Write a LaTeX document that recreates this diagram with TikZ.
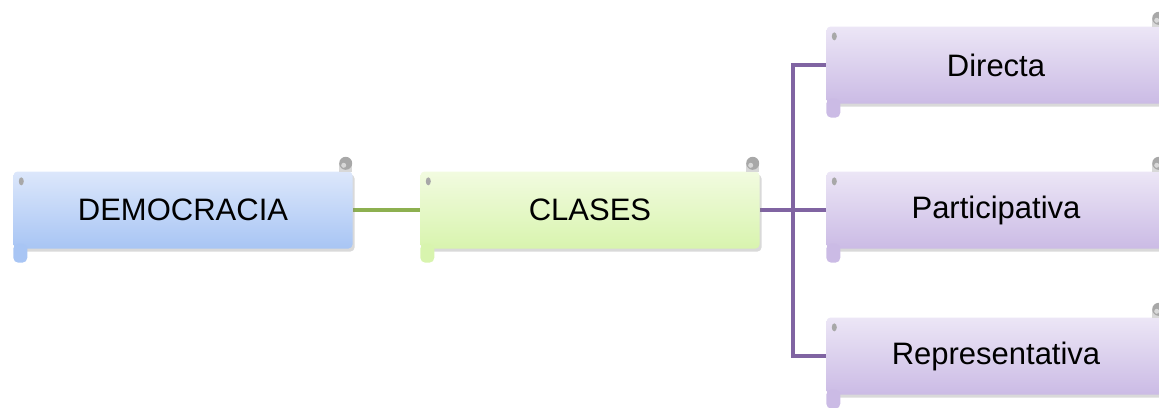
\documentclass[tikz,border=0pt]{standalone}
\usepackage{fontspec}
\setmainfont{Liberation Sans}
\usetikzlibrary{shadows,backgrounds}

\definecolor{blueTop}{HTML}{DCE7FB}
\definecolor{blueBot}{HTML}{A8C5F4}
\definecolor{greenTop}{HTML}{F2FBE0}
\definecolor{greenBot}{HTML}{D8F4AE}
\definecolor{purpleTop}{HTML}{ECE6F6}
\definecolor{purpleBot}{HTML}{CBBBE5}
\definecolor{greenLine}{HTML}{8DB050}
\definecolor{purpleLine}{HTML}{8064A2}
\definecolor{curlGray}{HTML}{A8A8A8}

\tikzset{
  scroll/.style={rectangle, rounded corners=4pt, minimum width=339pt,
    minimum height=77pt, inner sep=0pt, font=\fontsize{31}{36}\selectfont,
    drop shadow={shadow xshift=2pt, shadow yshift=-3pt, opacity=0.3}},
  blueScroll/.style={scroll, top color=blueTop, bottom color=blueBot},
  greenScroll/.style={scroll, top color=greenTop, bottom color=greenBot},
  purpleScroll/.style={scroll, top color=purpleTop, bottom color=purpleBot},
  link/.style={line width=4.5pt}
}

% curls of the scroll: node name, lower colour
\newcommand{\scrollCurls}[2]{
  \fill[#2, rounded corners=5pt] ([yshift=5pt]#1.south west) rectangle ([xshift=14pt, yshift=-14pt]#1.south west);
  \fill[curlGray!45] ([xshift=-14pt, yshift=-1pt]#1.north east) rectangle ([xshift=-1pt, yshift=7pt]#1.north east);
  \fill[curlGray] ([xshift=-7pt, yshift=8pt]#1.north east) circle (6.5pt);
  \fill[curlGray!45] ([xshift=-9pt, yshift=6pt]#1.north east) circle (2.5pt);
  \fill[curlGray] ([xshift=8pt, yshift=-10pt]#1.north west) ellipse (2.5pt and 4pt);
}

\begin{document}
\begin{tikzpicture}[x=1pt, y=-1pt]
\useasboundingbox (0,0) rectangle (1159,407);

\node[blueScroll] (demo) at (183,210) {DEMOCRACIA};
\node[greenScroll] (clases) at (590,210) {CLASES};
\node[purpleScroll] (directa) at (996,65) {Directa};
\node[purpleScroll] (particip) at (996,210) {Participativa};
\node[purpleScroll] (repres) at (996,356) {Representativa};
\coordinate (hub) at (793,210);

\scrollCurls{demo}{blueBot}
\scrollCurls{clases}{greenBot}
\scrollCurls{directa}{purpleBot}
\scrollCurls{particip}{purpleBot}
\scrollCurls{repres}{purpleBot}

\begin{scope}[on background layer]
\draw[link, greenLine] (demo) -- (clases);
\draw[link, purpleLine] (clases) -- (hub);
\draw[link, purpleLine] (hub) |- (directa);
\draw[link, purpleLine] (hub) -- (particip);
\draw[link, purpleLine] (hub) |- (repres);
\end{scope}
\end{tikzpicture}
\end{document}
